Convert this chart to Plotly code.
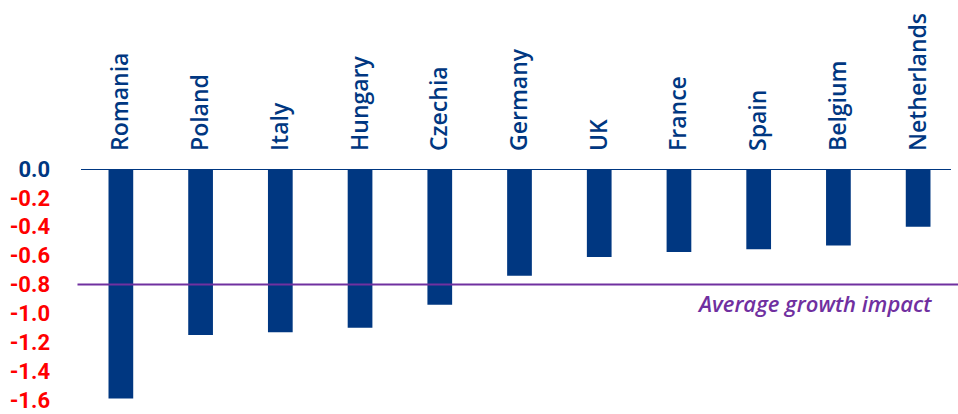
import plotly.graph_objects as go

countries = ["Romania", "Poland", "Italy", "Hungary", "Czechia", "Germany",
             "UK", "France", "Spain", "Belgium", "Netherlands"]
impact = [-1.59, -1.15, -1.13, -1.10, -0.94, -0.74, -0.61, -0.575, -0.555, -0.53, -0.40]
average_impact = -0.8
y_ticks = [0.0, -0.2, -0.4, -0.6, -0.8, -1.0, -1.2, -1.4, -1.6]

BLUE = "#003781"
RED = "#FF0000"
PURPLE = "#7030A0"

tick_text = [
    f'<span style="color:{BLUE if v == 0 else RED}">{v:.1f}</span>' for v in y_ticks
]

fig = go.Figure()
fig.add_trace(go.Bar(x=countries, y=impact, marker_color=BLUE, width=0.31,
                     marker_line_width=0))

fig.add_shape(type="line", xref="paper", yref="y", x0=0, x1=0.992, y0=0, y1=0,
              line=dict(color=BLUE, width=2), layer="below")
fig.add_shape(type="line", xref="paper", yref="y", x0=-0.004, x1=1, y0=average_impact,
              y1=average_impact, line=dict(color=PURPLE, width=2), layer="above")

fig.add_annotation(x=10.2, y=average_impact, xref="x", yref="y", text="<i>Average growth impact</i>",
                   showarrow=False, xanchor="right", yanchor="top", yshift=-1,
                   font=dict(family="Open Sans", size=22, color=PURPLE, weight=600))

fig.update_layout(
    width=958, height=414,
    margin=dict(l=81, r=0, t=169, b=14),
    plot_bgcolor="white", paper_bgcolor="white",
    showlegend=False,
    xaxis=dict(side="top", tickangle=-90, range=[-0.5, 10.5], showgrid=False,
               zeroline=False, showline=False, ticks="",
               ticklabelstandoff=17,
               tickfont=dict(family="Open Sans", size=23, color=BLUE, weight=600)),
    yaxis=dict(range=[-1.6, 0], tickvals=y_ticks, ticktext=tick_text, showgrid=False,
               zeroline=False, showline=False, ticks="", ticklabelstandoff=30,
               tickfont=dict(family="Roboto", size=22, color=RED, weight="bold")),
)

fig.write_html("out.html")
